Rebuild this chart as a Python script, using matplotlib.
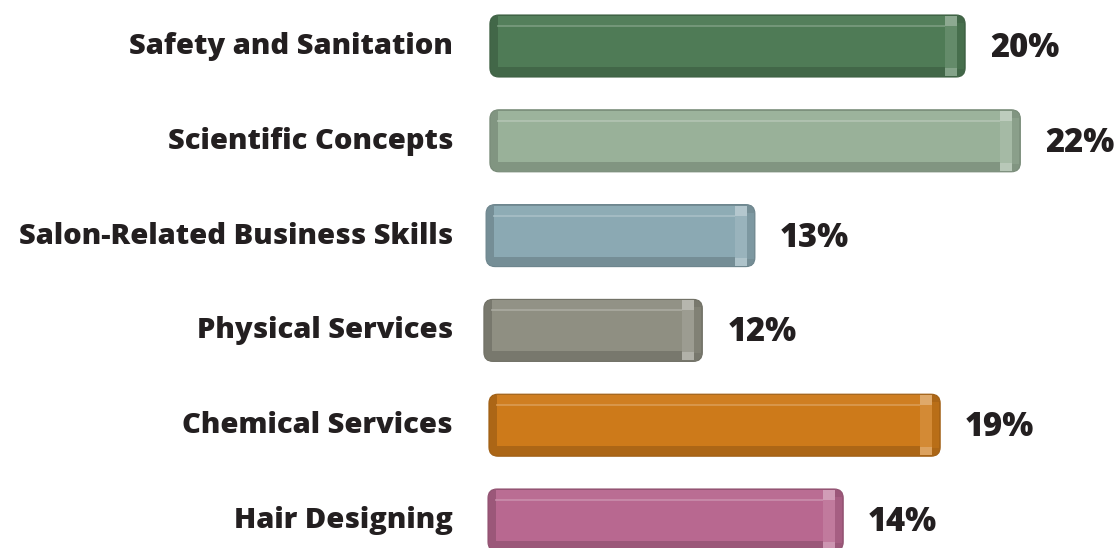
import matplotlib.pyplot as plt
from matplotlib.patches import FancyBboxPatch, Rectangle
from matplotlib.colors import to_rgb

categories = ["Safety and Sanitation", "Scientific Concepts", "Salon-Related Business Skills",
              "Physical Services", "Chemical Services", "Hair Designing"]
shares = [20, 22, 13, 12, 19, 14]
# bar lengths as drawn in the picture (in % units, not strictly proportional)
bar_lengths = [19.8, 22.1, 11.2, 9.1, 18.8, 14.8]
bar_starts = [0.08, 0.08, -0.08, -0.17, 0.04, 0.0]
colors = ["#4f7b56", "#99b199", "#8ba9b3", "#8f8f82", "#cd7a1a", "#b86890"]

PX = 24.0       # pixels per x unit
PY = 94.8       # pixels per y unit
W, H = 1119, 548
X0 = 488        # pixel where x = 0


def shade(c, f):
    r, g, b = to_rgb(c)
    if f < 1:
        return (r * f, g * f, b * f)
    t = f - 1
    return (r + (1 - r) * t, g + (1 - g) * t, b + (1 - b) * t)


fig = plt.figure(figsize=(W / 100, H / 100), dpi=100)
ax = fig.add_axes([0, 0, 1, 1])
ax.set_xlim(-X0 / PX, (W - X0) / PX)
ax.set_ylim((H - 46) / PY, -46 / PY)
ax.axis("off")

bh = 62 / PY
px = 1 / PX
py = 1 / PY
for i, (cat, share, length, start, col) in enumerate(zip(categories, shares, bar_lengths, bar_starts, colors)):
    x0, x1 = start, start + length
    top, bot = i - bh / 2, i + bh / 2
    dark = shade(col, 0.84)
    light = shade(col, 1.12)
    outer = FancyBboxPatch((x0, top), length, bh,
                           boxstyle=f"round,pad=0,rounding_size={9 * px}",
                           mutation_aspect=PX / PY, fc=dark, ec=shade(col, 0.78), lw=0.8, zorder=2)
    ax.add_patch(outer)
    # top strip
    ax.add_patch(Rectangle((x0 + 8 * px, top + 1 * py), length - 24 * px, 10 * py,
                           fc=shade(col, 1.03), ec="none", zorder=3))
    # face
    ax.add_patch(Rectangle((x0 + 8 * px, top + 11 * py), length - 24 * px, bh - 21 * py,
                           fc=col, ec="none", zorder=3))
    ax.plot([x0 + 8 * px, x1 - 16 * px], [top + 11 * py] * 2, color=shade(col, 1.25), lw=1.2, zorder=4)
    # right cap
    ax.add_patch(Rectangle((x1 - 20 * px, top + 1 * py), 12 * px, bh - 2 * py,
                           fc=light, ec="none", zorder=4))
    ax.add_patch(Rectangle((x1 - 20 * px, top + 1 * py), 12 * px, 10 * py,
                           fc=shade(col, 1.35), ec="none", zorder=4))
    ax.add_patch(Rectangle((x1 - 20 * px, bot - 9 * py), 12 * px, 8 * py,
                           fc=shade(col, 1.3), ec="none", zorder=4))
    ax.add_patch(Rectangle((x1 - 8 * px, top + 8 * py), 7 * px, bh - 16 * py,
                           fc=shade(col, 0.9), ec="none", zorder=4))

    ax.text(-35 * px, i + 8 * py, cat, ha="right", va="baseline", fontsize=21,
            fontweight="heavy", family="Open Sans", color="#231f20")
    ax.text(x1 + 25 * px, i + 11 * py, f"{share}%", ha="left", va="baseline", fontsize=23.5,
            fontweight="heavy", family="Open Sans", color="#231f20")

fig.savefig("out.png", dpi=100)
